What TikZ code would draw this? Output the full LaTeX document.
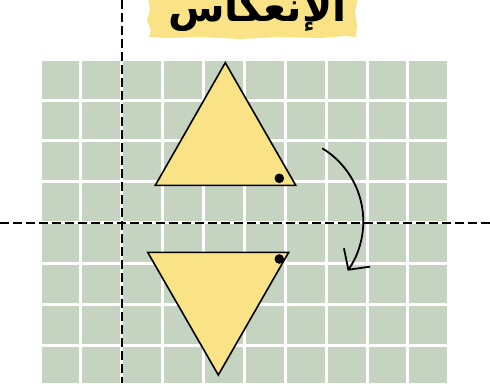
\documentclass[tikz,border=0pt]{standalone}
\usepackage{fontspec}
\usepackage{tikz}
\usetikzlibrary{arrows.meta}
\TeXXeTstate=1
\newfontfamily\arabicfont[Script=Arabic]{DejaVu Sans}
\definecolor{gridgreen}{HTML}{C5D4C1}
\definecolor{softyellow}{HTML}{F9E386}
\tikzset{
  gridline/.style={white,line width=3pt},
  axisline/.style={black,line width=1.8pt,dash pattern=on 9pt off 4pt},
  tri/.style={draw=black,fill=softyellow,line width=1.6pt,line join=miter},
  marker/.style={fill=black},
  fliparrow/.style={-{Straight Barb[length=15pt,width=32pt]},line width=1.8pt,black},
  titletext/.style={font=\arabicfont\bfseries\fontsize{41}{48}\selectfont,inner sep=0pt,anchor=base}
}
\begin{document}
\begin{tikzpicture}[x=1pt,y=-1pt]
  \useasboundingbox (0,0) rectangle (490,383);

  % grid
  \fill[gridgreen] (41.5,60.5) rectangle (446.5,383);
  \foreach \i in {0,...,8}
    \draw[gridline] (80.7+40.9*\i,59) -- (80.7+40.9*\i,383);
  \foreach \j in {0,...,6}
    \draw[gridline] (40,100+40.95*\j) -- (448,100+40.95*\j);

  % axes
  \draw[axisline] (121.6,0) -- (121.6,383);
  \draw[axisline] (0,222.7) -- (490,222.7);

  % title
  \fill[softyellow] (148,-2) -- (150,10) -- (147,20) -- (151,30) -- (149,37)
    -- (170,38) -- (200,37) -- (240,39) -- (280,37) -- (320,38) -- (345,36)
    -- (356,37) -- (357,25) -- (355,12) -- (358,-2) -- cycle;
  \node[titletext] (title) at (257.5,21) {\beginR الإنعكاس\endR};

  % triangles
  \draw[tri] (225.3,62.7) -- (295.7,185.3) -- (155.3,185.3) -- cycle;
  \fill[marker] (279.3,178.3) circle[radius=4.8];
  \draw[tri] (147.7,252.3) -- (288.7,252.3) -- (218.3,375) -- cycle;
  \fill[marker] (279.3,259) circle[radius=4.8];

  % flip arrow
  \draw[fliparrow] (322.3,148.3) arc[start angle=-58.6,end angle=35.2,radius=85.6];
\end{tikzpicture}
\end{document}
